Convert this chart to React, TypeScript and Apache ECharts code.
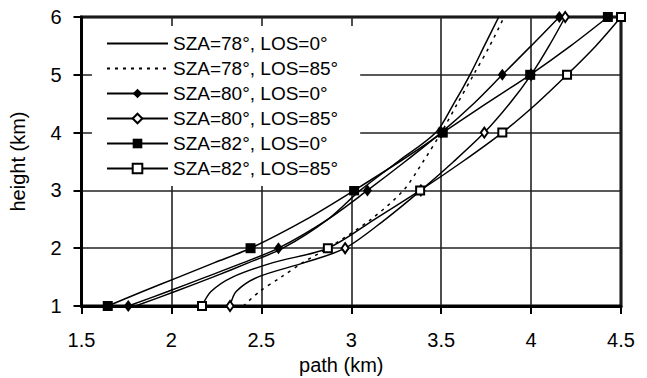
import React, { useEffect, useRef } from "react";
import * as echarts from "echarts";

// heights (km) at which each path was read
const HEIGHTS = [1, 1.25, 1.5, 1.75, 2, 2.5, 3, 3.5, 4, 4.5, 5, 5.5, 6];

// path (km) for each configuration, one value per height above
const SZA78_LOS0 = [1.8, 2.02, 2.23, 2.43, 2.62, 2.87, 3.05, 3.26, 3.47, 3.57, 3.66, 3.74, 3.82];
const SZA78_LOS85 = [2.4, 2.49, 2.61, 2.73, 2.87, 3.11, 3.29, 3.4, 3.5, 3.59, 3.68, 3.77, 3.85];
const SZA80_LOS0 = [1.76, 1.98, 2.19, 2.4, 2.595, 2.87, 3.09, 3.3, 3.5, 3.68, 3.84, 4.0, 4.157];
const SZA80_LOS85 = [2.326, 2.36, 2.48, 2.74, 2.966, 3.19, 3.387, 3.57, 3.74, 3.88, 4.0, 4.1, 4.19];
const SZA82_LOS0 = [1.646, 1.84, 2.04, 2.24, 2.44, 2.75, 3.016, 3.27, 3.509, 3.75, 3.995, 4.22, 4.427];
const SZA82_LOS85 = [2.17, 2.22, 2.34, 2.565, 2.87, 3.13, 3.383, 3.62, 3.84, 4.03, 4.2, 4.36, 4.5];

const SERIES_NAMES = [
  "SZA=78°, LOS=0°",
  "SZA=78°, LOS=85°",
  "SZA=80°, LOS=0°",
  "SZA=80°, LOS=85°",
  "SZA=82°, LOS=0°",
  "SZA=82°, LOS=85°",
];

const X_TICKS = { min: 1.5, max: 4.5, interval: 0.5 };
const Y_TICKS = { min: 1, max: 6, interval: 1 };

const FONT = "'Liberation Sans', Arial, sans-serif";

function makeData(xs: number[]) {
  return xs.map((x, i) => {
    const h = HEIGHTS[i];
    return Number.isInteger(h) ? { value: [x, h] } : { value: [x, h], symbol: "none" };
  });
}

export default function App() {
  const ref = useRef<HTMLDivElement>(null);

  useEffect(() => {
    if (!ref.current) return;
    const chart = echarts.init(ref.current, undefined, { renderer: "svg" });

    const lineBase = { color: "#000", width: 1.5 };
    const filled = { color: "#000", borderWidth: 0 };
    const empty = { color: "#000", borderColor: "#000", borderWidth: 1.4 };

    const defs = [
      { data: SZA78_LOS0, symbol: "none", size: 8, line: { ...lineBase }, item: filled },
      { data: SZA78_LOS85, symbol: "none", size: 8, line: { ...lineBase, type: [3, 5] }, item: filled },
      { data: SZA80_LOS0, symbol: "diamond", size: [9, 12], line: { ...lineBase }, item: filled },
      { data: SZA80_LOS85, symbol: "emptyDiamond", size: [7, 10], line: { ...lineBase }, item: empty },
      { data: SZA82_LOS0, symbol: "rect", size: 10, line: { ...lineBase }, item: filled },
      { data: SZA82_LOS85, symbol: "emptyRect", size: 8, line: { ...lineBase }, item: empty },
    ];

    const series = defs.map((d, i) => ({
      name: SERIES_NAMES[i],
      type: "line",
      data: makeData(d.data),
      symbol: d.symbol,
      symbolSize: d.size,
      showSymbol: true,
      smooth: 0.3,
      lineStyle: d.line,
      itemStyle: d.item,
      emphasis: { disabled: true },
      z: 3,
    }));

    chart.setOption({
      animation: false,
      textStyle: { fontFamily: FONT },
      grid: {
        left: 81.5,
        right: 26,
        top: 17,
        bottom: 72,
        containLabel: false,
        outerBoundsMode: "none",
        show: true,
        borderColor: "#000",
        borderWidth: 3,
        backgroundColor: "transparent",
      },
      legend: {
        orient: "vertical",
        left: 92,
        top: 26,
        padding: [5, 22, 5, 14],
        backgroundColor: "#fff",
        itemWidth: 61,
        itemHeight: 12,
        itemGap: 0,
        z: 10,
        selectedMode: false,
        textStyle: { fontSize: 19, lineHeight: 25, color: "#000", fontFamily: FONT },
        data: SERIES_NAMES.map((n, i) => (i < 2 ? { name: n, itemStyle: { opacity: 0 } } : { name: n })),
      },
      xAxis: {
        type: "value",
        min: X_TICKS.min,
        max: X_TICKS.max,
        interval: X_TICKS.interval,
        name: "path (km)",
        nameLocation: "middle",
        nameGap: 44,
        nameTextStyle: { fontSize: 20, color: "#000", padding: [0, 20, 0, 0], fontFamily: FONT },
        axisLine: { show: true, lineStyle: { color: "#000", width: 3 } },
        axisTick: { show: true, length: 8, lineStyle: { color: "#000", width: 2 } },
        axisLabel: { fontSize: 20, color: "#000", margin: 24, fontFamily: FONT },
        splitLine: { show: true, lineStyle: { color: "#222", width: 1.6 } },
      },
      yAxis: {
        type: "value",
        min: Y_TICKS.min,
        max: Y_TICKS.max,
        interval: Y_TICKS.interval,
        name: "height (km)",
        nameLocation: "middle",
        nameGap: 54,
        nameTextStyle: { fontSize: 20, color: "#000", fontFamily: FONT },
        axisLine: { show: true, lineStyle: { color: "#000", width: 3 } },
        axisTick: { show: true, length: 8, lineStyle: { color: "#000", width: 2 } },
        axisLabel: { fontSize: 20, color: "#000", margin: 20, fontFamily: FONT },
        splitLine: { show: true, lineStyle: { color: "#222", width: 1.6 } },
      },
      series,
    });

    return () => chart.dispose();
  }, []);

  return (
    <div
      ref={ref}
      style={{ position: "fixed", left: 0, top: 0, width: 647, height: 378, background: "#fff" }}
    />
  );
}
